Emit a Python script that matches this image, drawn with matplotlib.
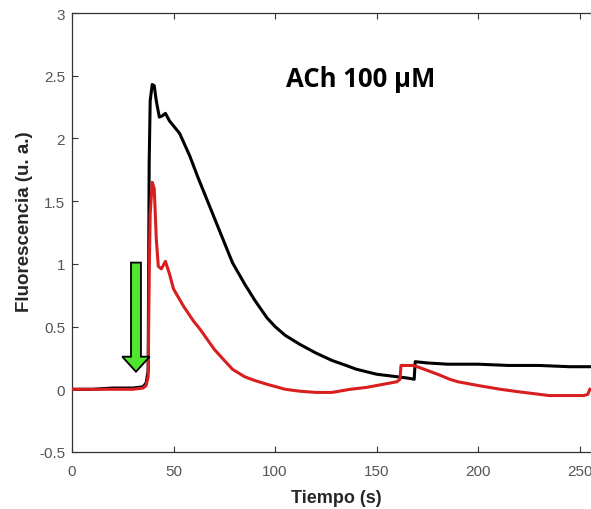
import matplotlib.pyplot as plt
from matplotlib.patches import FancyArrow

# trace values (time in s, fluorescence in a.u.)
t_black = [0, 10, 20, 30, 35, 36.5, 37.5, 38.0, 38.5, 39.5, 40.5, 41.5, 43, 44.5, 46, 48, 50,
           53, 58, 62, 66.5, 70, 75, 79, 85, 90, 96, 100, 105, 112, 120, 128, 135,
           140, 145, 150, 155, 160, 165, 168.5, 169, 175, 185, 200, 215, 230, 245, 255]
f_black = [0.0, 0.0, 0.01, 0.01, 0.02, 0.05, 0.15, 1.8, 2.3, 2.43, 2.42, 2.3, 2.17, 2.18, 2.2, 2.14, 2.1,
           2.04, 1.86, 1.69, 1.51, 1.37, 1.17, 1.01, 0.84, 0.71, 0.57, 0.5, 0.43, 0.36, 0.29, 0.23, 0.19,
           0.16, 0.14, 0.12, 0.11, 0.1, 0.09, 0.08, 0.22, 0.21, 0.2, 0.2, 0.19, 0.19, 0.18, 0.18]

t_red = [0, 10, 20, 30, 35, 36.5, 37.5, 38.0, 38.5, 39.5, 40.5, 41.5, 42.5, 44, 46, 48, 50,
         55, 60, 63, 70, 75, 79, 85, 90, 96, 105, 112, 120, 128, 137, 145, 150, 155, 160, 161.5,
         162, 168, 170, 175, 180, 186, 190, 200, 211, 220, 235, 245, 252, 254, 255]
f_red = [0.0, 0.0, 0.0, 0.0, 0.01, 0.03, 0.1, 0.9, 1.4, 1.65, 1.6, 1.2, 0.98, 0.96, 1.02, 0.92, 0.8,
         0.66, 0.54, 0.48, 0.32, 0.23, 0.16, 0.1, 0.07, 0.04, 0.0, -0.015, -0.025, -0.025, 0.0, 0.015, 0.03, 0.045, 0.06, 0.08,
         0.19, 0.19, 0.18, 0.15, 0.12, 0.08, 0.06, 0.03, 0.0, -0.02, -0.05, -0.05, -0.05, -0.04, 0.0]

x_ticks = [0, 50, 100, 150, 200, 250]
y_ticks = [-0.5, 0, 0.5, 1, 1.5, 2, 2.5, 3]
y_tick_labels = ['-0.5', '0', '0.5', '1', '1.5', '2', '2.5', '3']

plt.rcParams['font.family'] = ['Liberation Sans', 'DejaVu Sans']

fig = plt.figure(figsize=(5.91, 5.10), dpi=100)
ax = fig.add_axes([72 / 591, 57 / 510, 528 / 591, 439 / 510])

ax.plot(t_black, f_black, color='black', lw=2.2, zorder=2)
ax.plot(t_red, f_red, color='#d81e1e', lw=2.2, zorder=3)

# green stimulus arrow
arrow = FancyArrow(31.5, 1.01, 0, -0.87, width=4.9, head_width=13.5, head_length=0.12,
                   length_includes_head=True, facecolor='#4ee62e', edgecolor='black', lw=1.3, zorder=4)
ax.add_patch(arrow)

ax.text(142, 2.48, 'ACh 100 µM', fontsize=18.5, fontweight='bold', family='Open Sans',
        ha='center', va='center')

ax.set_xlim(0, 260)
ax.set_ylim(-0.5, 3)
ax.set_xticks(x_ticks)
ax.set_yticks(y_ticks)
ax.set_yticklabels(y_tick_labels)
ax.tick_params(direction='in', length=4, width=0.8, top=True, right=True,
               labelsize=11, labelcolor='#555555', color='#333333', pad=5)
ax.tick_params(axis='x', pad=8.5)
for sp in ax.spines.values():
    sp.set_color('#333333')
    sp.set_linewidth(0.9)

ax.set_xlabel('Tiempo (s)', fontsize=13, fontweight='bold', color='#262626', labelpad=8)
ax.set_ylabel('Fluorescencia (u. a.)', fontsize=13.5, fontweight='bold', color='#262626')
ax.yaxis.set_label_coords(-0.073, 0.526)

fig.savefig('out.png', dpi=100)
